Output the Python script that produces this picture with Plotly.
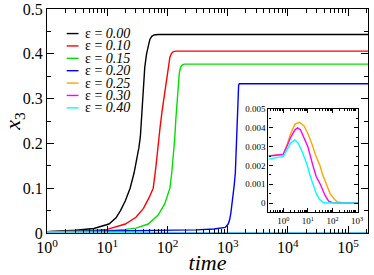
import plotly.graph_objects as go

# ---- data ----
eps_labels = ["0.00", "0.10", "0.15", "0.20", "0.25", "0.30", "0.40"]
colors = ["#000000", "#ff0000", "#00e000", "#0000ff", "#ffa500", "#ff00ff", "#00ffff"]

t_e000 = [1, 3, 6, 10.7, 14, 16.6, 20, 24, 28, 31, 33.5, 35.5, 37, 38.5, 40, 42, 45, 48, 51, 55, 60, 70, 3e5]
x_e000 = [0.003, 0.006, 0.010, 0.020, 0.034, 0.050, 0.072, 0.100, 0.135, 0.165, 0.19, 0.215, 0.255, 0.30, 0.33, 0.37, 0.40, 0.42, 0.432, 0.439, 0.442, 0.443, 0.443]

t_e010 = [1, 5, 10, 20, 30, 40, 50, 58, 64, 70, 76, 82, 90, 97, 104, 110, 117, 125, 140, 3e5]
x_e010 = [0.003, 0.005, 0.008, 0.020, 0.035, 0.055, 0.080, 0.100, 0.145, 0.200, 0.240, 0.275, 0.310, 0.345, 0.375, 0.393, 0.401, 0.405, 0.406, 0.406]

t_e015 = [1, 10, 20, 30, 48, 70, 90, 110, 118, 125, 132, 138, 144, 150, 157, 165, 175, 190, 3e5]
x_e015 = [0.003, 0.005, 0.008, 0.011, 0.020, 0.040, 0.065, 0.100, 0.135, 0.170, 0.210, 0.255, 0.295, 0.330, 0.355, 0.370, 0.375, 0.377, 0.377]

t_e020 = [1, 10, 100, 300, 590, 910, 1020, 1080, 1130, 1210, 1280, 1340, 1390, 1440, 1480, 1520, 1560, 3e5]
x_e020 = [0.003, 0.004, 0.006, 0.007, 0.009, 0.0125, 0.020, 0.030, 0.045, 0.075, 0.105, 0.134, 0.200, 0.280, 0.315, 0.330, 0.333, 0.333]

t_e025 = [0.25, 1, 1.5, 2, 3, 4.5, 7, 10, 15, 20, 31, 40, 57, 80, 120, 160, 300, 3e5]
x_e025 = [0.00251, 0.0026, 0.0032, 0.0037, 0.0042, 0.0043, 0.0041, 0.0037, 0.0031, 0.0026, 0.0020, 0.0015, 0.0010, 0.0005, 0.0002, 0.00005, 0.0, 0.0]

t_e030 = [0.25, 1, 1.5, 2, 3, 3.8, 5, 7, 10, 16, 22, 32, 50, 70, 100, 200, 3e5]
x_e030 = [0.0025, 0.00258, 0.0031, 0.0035, 0.0039, 0.0040, 0.0039, 0.0035, 0.0030, 0.0020, 0.0014, 0.0010, 0.0004, 0.0001, 0.00002, 0.0, 0.0]

t_e040 = [0.25, 1, 1.5, 2, 2.9, 4, 6, 9.5, 12, 16, 22, 30, 40, 60, 3e5]
x_e040 = [0.00234, 0.00248, 0.0029, 0.0032, 0.00336, 0.0032, 0.0027, 0.0020, 0.0015, 0.0010, 0.0005, 0.0002, 0.00005, 0.0, 0.0]

series_t = [t_e000, t_e010, t_e015, t_e020, t_e025, t_e030, t_e040]
series_x = [x_e000, x_e010, x_e015, x_e020, x_e025, x_e030, x_e040]
inset_series = [4, 5, 6]

main_xticks = [1, 10, 100, 1000, 10000, 100000]
main_xticktext = ["10<sup>0</sup>", "10<sup>1</sup>", "10<sup>2</sup>", "10<sup>3</sup>", "10<sup>4</sup>", "10<sup>5</sup>"]
main_yticks = [0, 0.1, 0.2, 0.3, 0.4, 0.5]
main_yticktext = ["0", "0.1", "0.2", "0.3", "0.4", "0.5"]
inset_xticks = [1, 10, 100, 1000]
inset_xticktext = ["10<sup>0</sup>", "10<sup>1</sup>", "10<sup>2</sup>", "10<sup>3</sup>"]
inset_yticks = [0, 0.001, 0.002, 0.003, 0.004, 0.005]
inset_yticktext = ["0", "0.001", "0.002", "0.003", "0.004", "0.005"]

FONT = "Liberation Serif, Times New Roman, DejaVu Serif, serif"

fig = go.Figure()
for i in range(len(series_t)):
    fig.add_trace(go.Scatter(x=series_t[i], y=series_x[i], mode="lines",
                             line=dict(color=colors[i], width=1.4),
                             xaxis="x", yaxis="y", showlegend=False, hoverinfo="skip"))
for i in inset_series:
    fig.add_trace(go.Scatter(x=series_t[i], y=series_x[i], mode="lines",
                             line=dict(color=colors[i], width=1.4),
                             xaxis="x2", yaxis="y2", showlegend=False, hoverinfo="skip"))

log_minor_main = [m * 10 ** d for d in range(0, 6) for m in range(2, 10)]
log_minor_inset = [m * 10 ** d for d in range(-1, 3) for m in range(2, 10)]

axis_common = dict(showgrid=False, zeroline=False, showline=True, linecolor="black",
                   linewidth=1.3, ticks="inside", tickcolor="black", mirror="allticks",
                   ticklabeloverflow="allow")

fig.update_layout(
    width=374, height=275,
    margin=dict(l=47, r=1, t=6, b=41),
    paper_bgcolor="white", plot_bgcolor="white",
    font=dict(family=FONT, color="black"),
    xaxis=dict(**axis_common, type="log", range=[0, 5.33], domain=[0, 1],
               tickmode="array", tickvals=main_xticks, ticktext=main_xticktext,
               ticklen=7, tickwidth=1.2, tickfont=dict(size=16, family=FONT),
               minor=dict(tickmode="array", tickvals=log_minor_main, ticks="inside",
                          ticklen=4, tickcolor="black", tickwidth=1),
               title=dict(text="<i>time</i>", font=dict(size=22, family=FONT), standoff=2)),
    yaxis=dict(**axis_common, range=[0, 0.5], domain=[0, 1],
               tickmode="array", tickvals=main_yticks, ticktext=main_yticktext,
               ticklen=7, tickwidth=1.2, tickfont=dict(size=16, family=FONT),
               minor=dict(dtick=0.05, ticks="inside", ticklen=4, tickcolor="black", tickwidth=1),
               title=dict(text="<i>x</i><sub>3</sub>", font=dict(size=22, family=FONT), standoff=6)),
    xaxis2=dict(**axis_common, type="log", range=[-0.6, 3.04], domain=[0.690, 0.969],
                anchor="y2", tickmode="array", tickvals=inset_xticks, ticktext=inset_xticktext,
                ticklen=4, tickwidth=1, tickfont=dict(size=9, family=FONT),
                minor=dict(tickmode="array", tickvals=log_minor_inset, ticks="inside",
                           ticklen=2, tickcolor="black", tickwidth=1)),
    yaxis2=dict(**axis_common, range=[-0.0005, 0.005], domain=[0.092, 0.553],
                anchor="x2", tickmode="array", tickvals=inset_yticks, ticktext=inset_yticktext,
                ticklen=4, tickwidth=1, tickfont=dict(size=9, family=FONT),
                minor=dict(dtick=0.0005, ticks="inside", ticklen=2, tickcolor="black", tickwidth=1)),
)

# custom compact legend
plot_w, plot_h = 326.0, 228.0
x0 = (67 - 47) / plot_w
x1 = (79 - 47) / plot_w
xt = (84 - 47) / plot_w
row0 = 31.0
gap = 12.6
for i in range(len(eps_labels)):
    ypx = row0 + i * gap
    yp = (234 - ypx) / plot_h
    fig.add_shape(type="line", xref="paper", yref="paper", x0=x0, x1=x1, y0=yp, y1=yp,
                  line=dict(color=colors[i], width=1.4))
    fig.add_annotation(xref="paper", yref="paper", x=xt, y=yp, xanchor="left", yanchor="middle",
                       text="ε = <i>" + eps_labels[i] + "</i>", showarrow=False,
                       font=dict(size=14, family=FONT, color="black"))

fig.write_html("out.html", config={"displayModeBar": False},
               post_script="document.body.style.margin='0';document.body.style.padding='0';")
